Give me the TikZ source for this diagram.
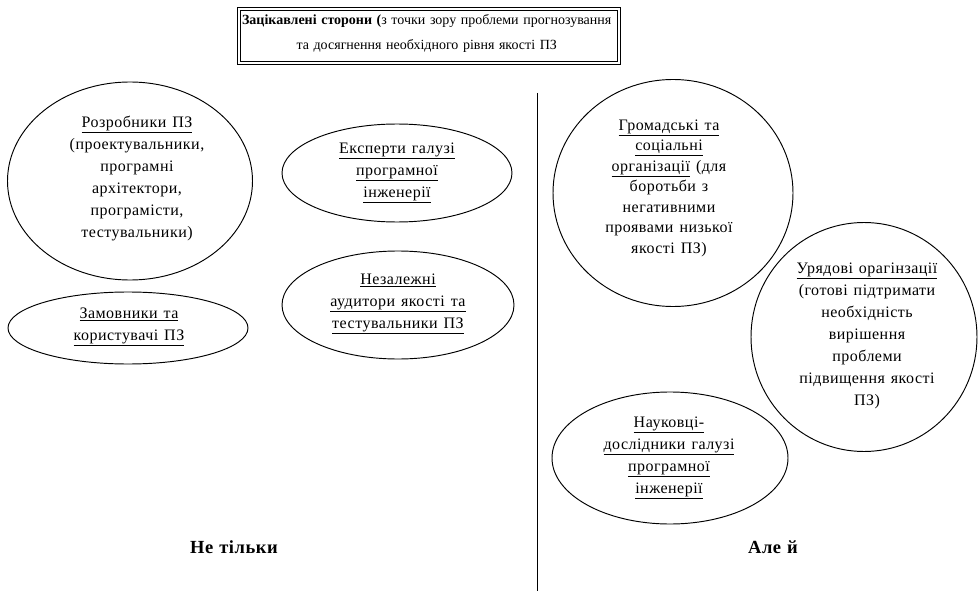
\documentclass[tikz,border=0pt]{standalone}
\usepackage{fontspec}
\setmainfont{Liberation Serif}[LetterSpace=3]
\newfontfamily\headfont{Liberation Serif}
\usetikzlibrary{shapes.geometric}

\begin{document}
\begin{tikzpicture}[x=1pt,y=-1pt,
  oval/.style={draw, ellipse, line width=0.95pt, inner sep=0pt},
  txt/.style={align=center, inner sep=0pt, font=\fontsize{16}{22}\selectfont},
  tag/.style={inner sep=0pt, font=\fontsize{18.5}{20}\selectfont\bfseries},
  framebox/.style={draw, double, line width=1.1pt, double distance=2.2pt, inner sep=0pt}]
\useasboundingbox (0,0) rectangle (980,591);

% heading in a double frame
\spaceskip=4.6pt plus 1pt\relax
\node[framebox, minimum width=380pt, minimum height=54pt] (frame) at (429,36) {};
\node[align=center, inner sep=0pt, font=\headfont\fontsize{14}{25}\selectfont] (title) at (429,33)
  {\textbf{Зацікавлені сторони (}з точки зору проблеми прогнозування\\
   та досягнення необхідного рівня якості ПЗ};
\spaceskip=6pt plus 1pt\relax

% dividing line
\coordinate (vtop) at (537,93);
\coordinate (vbot) at (537,591);
\draw[line width=1pt] (vtop) -- (vbot);

% left column
\node[oval, minimum width=245pt, minimum height=198pt] (e1) at (130,181) {};
\node[txt] (t1) at (140,178) {\underline{Розробники ПЗ}\\(проектувальники,\\програмні\\архітектори,\\програмісти,\\тестувальники)};

\node[oval, minimum width=230pt, minimum height=98pt] (e2) at (397,173) {};
\node[txt] (t2) at (400,173) {\underline{Експерти галузі}\\\underline{програмної}\\\underline{інженерії}};

\node[oval, minimum width=232pt, minimum height=108pt] (e3) at (398,305) {};
\node[txt] (t3) at (401,304) {\underline{Незалежні}\\\underline{аудитори якості та}\\\underline{тестувальники ПЗ}};

\node[oval, minimum width=240pt, minimum height=72pt] (e4) at (128,328) {};
\node[txt] (t4) at (132,327) {\underline{Замовники та}\\\underline{користувачі ПЗ}};

% right column
\node[oval, minimum width=240pt, minimum height=227pt] (e5) at (673,193) {};
\node[txt, font=\fontsize{16}{20.5}\selectfont] (t5) at (672,188) {\underline{Громадські та}\\\underline{соціальні}\\\underline{організації} (для\\боротьби з\\негативними\\проявами низької\\якості ПЗ)};

\node[oval, minimum width=226pt, minimum height=229pt] (e6) at (864,337) {};
\node[txt] (t6) at (870,336) {\underline{Урядові орагінзації}\\(готові підтримати\\необхідність\\вирішення\\проблеми\\підвищення якості\\ПЗ)};

\node[oval, minimum width=236pt, minimum height=132pt] (e7) at (670,458) {};
\node[txt] (t7) at (672,458) {\underline{Науковці-}\\\underline{дослідники галузі}\\\underline{програмної}\\\underline{інженерії}};

% column captions
\node[tag] (left) at (237,547) {Не тільки};
\node[tag] (right) at (776,547) {Але й};
\end{tikzpicture}
\end{document}
